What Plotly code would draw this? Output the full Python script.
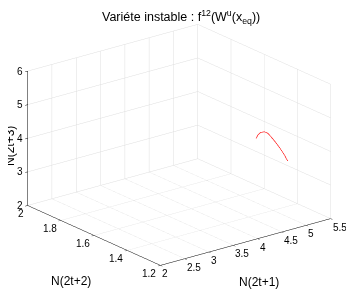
import plotly.graph_objects as go

# Data
n1 = [4.65, 4.69, 4.74, 4.82, 4.89, 4.96, 5.04, 5.13, 5.22, 5.30]   # N(2t+1)
n2 = [1.40, 1.40, 1.40, 1.40, 1.40, 1.40, 1.40, 1.40, 1.40, 1.40]   # N(2t+2)
n3 = [4.28, 4.37, 4.42, 4.41, 4.34, 4.20, 4.03, 3.82, 3.59, 3.35]   # N(2t+3)

x_ticks = [2, 2.5, 3, 3.5, 4, 4.5, 5, 5.5]
y_ticks = [1.2, 1.4, 1.6, 1.8, 2]
z_ticks = [2, 3, 4, 5, 6]
x_labels = ["2", "2.5", "3", "3.5", "4", "4.5", "5", "5.5"]
y_labels = ["1.2", "1.4", "1.6", "1.8", "2"]
z_labels = ["2", "3", "4", "5", "6"]

x_title = "N(2t+1)"
y_title = "N(2t+2)"
z_title = "N(2t+3)"
title = "Variéte instable : f<sup>12</sup>(W<sup>u</sup>(x<sub>eq</sub>))"

FONT = "Liberation Sans, Arial, Helvetica, sans-serif"
TICK_SIZE = 10
LABEL_SIZE = 12

x0, x1 = x_ticks[0], x_ticks[-1]
y0, y1 = y_ticks[0], y_ticks[-1]
z0, z1 = z_ticks[0], z_ticks[-1]

fig = go.Figure()
fig.add_trace(go.Scatter3d(x=n1, y=n2, z=n3, mode="lines",
                           line=dict(color="#ff0000", width=1.2),
                           showlegend=False, hoverinfo="skip"))

def ax(rng, vals):
    return dict(range=rng, tickvals=vals, showticklabels=False,
                title=dict(text=""),
                showbackground=False, showgrid=True, gridcolor="#dedede", gridwidth=1,
                showline=True, linecolor="black", linewidth=1,
                ticks="outside", tickcolor="black", ticklen=3,
                zeroline=False, showspikes=False, autorange=False)

ann = []
tf = dict(size=TICK_SIZE, color="black", family=FONT)
for v, t in zip(z_ticks, z_labels):
    ann.append(dict(x=x0, y=y1, z=v, text=t, showarrow=False, font=tf,
                    xanchor="right", yanchor="middle", xshift=-3, yshift=0))
for v, t in zip(y_ticks, y_labels):
    ann.append(dict(x=x0, y=v, z=z0, text=t, showarrow=False, font=tf,
                    xanchor="right", yanchor="top", xshift=-2, yshift=-1))
for v, t in zip(x_ticks, x_labels):
    ann.append(dict(x=v, y=y0, z=z0, text=t, showarrow=False, font=tf,
                    xanchor="left", yanchor="top", xshift=0, yshift=-1))
lf = dict(size=LABEL_SIZE, color="black", family=FONT)
ann.append(dict(x=(x0 + x1) / 2, y=y0, z=z0, text=x_title, showarrow=False, font=lf,
                xanchor="center", yanchor="middle", xshift=13, yshift=-40))
ann.append(dict(x=x0, y=(y0 + y1) / 2, z=z0, text=y_title, showarrow=False, font=lf,
                xanchor="center", yanchor="middle", xshift=-23, yshift=-46))

s = 1.467 * 1.015
cx, cy, cz = 0.032, -0.025, -0.060
fig.update_layout(
    width=354, height=290,
    margin=dict(l=0, r=0, t=0, b=0),
    paper_bgcolor="white",
    font=dict(family=FONT, color="black"),
    title=dict(text=title, x=0.489, xanchor="center", y=0.985, yanchor="top",
               font=dict(size=12.5, color="black", family=FONT)),
    annotations=[dict(text=z_title, xref="paper", yref="paper",
                      x=2 / 354, y=1 - 138 / 290, xanchor="center", yanchor="middle",
                      textangle=-90, showarrow=False, font=lf)],
    scene=dict(
        domain=dict(x=[0, 1], y=[0, 1]),
        xaxis=ax([x0, x1], x_ticks),
        yaxis=ax([y0, y1], y_ticks),
        zaxis=ax([z0, z1], z_ticks),
        aspectmode="manual",
        aspectratio=dict(x=1 * s, y=1 * s, z=0.665 * s),
        camera=dict(projection=dict(type="orthographic"),
                    up=dict(x=0, y=0, z=1),
                    center=dict(x=cx, y=cy, z=cz),
                    eye=dict(x=-0.576 * 2 + cx, y=-0.738 * 2 + cy, z=0.352 * 2 + cz)),
        bgcolor="white",
        annotations=ann,
    ),
)

fig.write_html("out.html")
